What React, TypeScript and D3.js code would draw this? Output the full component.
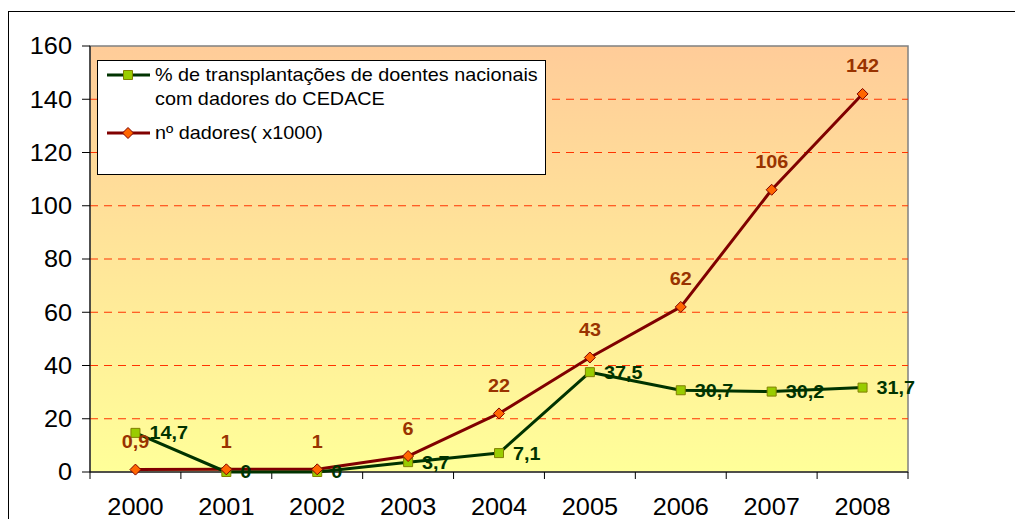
import React from 'react';
import * as d3 from 'd3';

const years = ['2000', '2001', '2002', '2003', '2004', '2005', '2006', '2007', '2008'];
const pctTransplants = [14.7, 0, 0, 3.7, 7.1, 37.5, 30.7, 30.2, 31.7];
const donors = [0.9, 1, 1, 6, 22, 43, 62, 106, 142];
const yTicks = [0, 20, 40, 60, 80, 100, 120, 140, 160];
const legendLabels = ['% de transplantações de doentes nacionais', 'com dadores do CEDACE', 'nº dadores( x1000)'];

const fmt = (v: number) => String(v).replace('.', ',');

// text slightly stretched horizontally, like the original picture
function SText({ x, y, anchor = 'start', size, weight = 'normal', fill, children }: any) {
  return (
    <g transform={`translate(${x},${y}) scale(1.1,1)`}>
      <text x={0} y={0} dy="0.36em" textAnchor={anchor} fontFamily="Liberation Sans, Arial, sans-serif"
        fontSize={size} fontWeight={weight} fill={fill}>{children}</text>
    </g>
  );
}

export default function App() {
  const width = 1015;
  const height = 519;
  const margin = { top: 46, right: 107, bottom: 47, left: 90 };

  const x = d3.scaleBand<string>()
    .domain(years)
    .range([margin.left, width - margin.right]);

  const y = d3.scaleLinear()
    .domain([0, 160])
    .range([height - margin.bottom, margin.top]);

  const cx = (d: string) => (x(d) as number) + x.bandwidth() / 2;

  const line = d3.line<number>()
    .x((_, i) => cx(years[i]))
    .y(d => y(d));

  const x0 = margin.left;
  const x1 = width - margin.right;
  const y0 = y(0);
  const yTop = y(160);

  const r = 5.5;
  const diamond = `M0,${-r}L${r},0L0,${r}L${-r},0Z`;
  const square = 'M-4.5,-4.5H4.5V4.5H-4.5Z';

  return (
    <svg width={width} height={height} style={{ position: 'absolute', left: 0, top: 0 }}>
      <defs>
        <linearGradient id="bg" x1="0" y1="0" x2="0" y2="1">
          <stop offset="0%" stopColor="#FFCC99" />
          <stop offset="100%" stopColor="#FFFF99" />
        </linearGradient>
      </defs>
      <rect x={0} y={0} width={width} height={height} fill="#fff" />
      {/* outer chart border */}
      <rect x={8.5} y={11.5} width={width} height={height} fill="none" stroke="#000" strokeWidth={1} />

      {/* plot area */}
      <rect x={x0} y={yTop} width={x1 - x0} height={y0 - yTop} fill="url(#bg)" stroke="#808080" strokeWidth={1.5} />

      {/* gridlines */}
      {yTicks.filter(t => t > 0 && t < 160).map(t => (
        <line key={t} x1={x0} x2={x1} y1={y(t)} y2={y(t)} stroke="#FF3300" strokeWidth={1} strokeDasharray="8,6" />
      ))}

      {/* y axis */}
      <line x1={x0} x2={x0} y1={yTop} y2={y0} stroke="#000" />
      {yTicks.map(t => (
        <g key={t}>
          <line x1={x0 - 8} x2={x0} y1={y(t)} y2={y(t)} stroke="#000" />
          <SText x={72} y={y(t)} anchor="end" size={23} fill="#000">{t}</SText>
        </g>
      ))}

      {/* x axis */}
      <line x1={x0} x2={x1} y1={y0} y2={y0} stroke="#000" />
      {[...years.map(d => x(d) as number), x1].map((v, i) => (
        <line key={i} x1={v} x2={v} y1={y0} y2={y0 + 7} stroke="#000" />
      ))}
      {years.map(d => (
        <SText key={d} x={cx(d)} y={507} anchor="middle" size={23} fill="#000">{d}</SText>
      ))}

      {/* series lines */}
      <path d={line(donors) as string} fill="none" stroke="#800000" strokeWidth={3} strokeLinejoin="round" />
      <path d={line(pctTransplants) as string} fill="none" stroke="#003300" strokeWidth={3} strokeLinejoin="round" />

      {/* markers */}
      {pctTransplants.map((v, i) => (
        <path key={'s' + i} d={square} transform={`translate(${cx(years[i])},${y(v)})`} fill="#99CC00" stroke="#808000" strokeWidth={1} />
      ))}
      {donors.map((v, i) => (
        <path key={'d' + i} d={diamond} transform={`translate(${cx(years[i])},${y(v)})`} fill="#FF6600" stroke="#800000" strokeWidth={1} />
      ))}

      {/* data labels */}
      {donors.map((v, i) => (
        <SText key={'dl' + i} x={cx(years[i])} y={y(v) - 28} anchor="middle" size={18} weight="bold" fill="#993300">{fmt(v)}</SText>
      ))}
      {pctTransplants.map((v, i) => (
        <SText key={'pl' + i} x={cx(years[i]) + 14} y={y(v)} anchor="start" size={18} weight="bold" fill="#003300">{fmt(v)}</SText>
      ))}

      {/* legend */}
      <rect x={97.5} y={60.5} width={448} height={114} fill="#fff" stroke="#000" strokeWidth={1} />
      <line x1={107} x2={150} y1={75} y2={75} stroke="#003300" strokeWidth={3} />
      <path d={square} transform="translate(128,75)" fill="#99CC00" stroke="#808000" strokeWidth={1} />
      <SText x={155} y={75} size={18} fill="#000">{legendLabels[0]}</SText>
      <SText x={155} y={99} size={18} fill="#000">{legendLabels[1]}</SText>
      <line x1={107} x2={150} y1={133} y2={133} stroke="#800000" strokeWidth={3} />
      <path d={diamond} transform="translate(128,133)" fill="#FF6600" stroke="#800000" strokeWidth={1} />
      <SText x={155} y={133} size={18} fill="#000">{legendLabels[2]}</SText>
    </svg>
  );
}
